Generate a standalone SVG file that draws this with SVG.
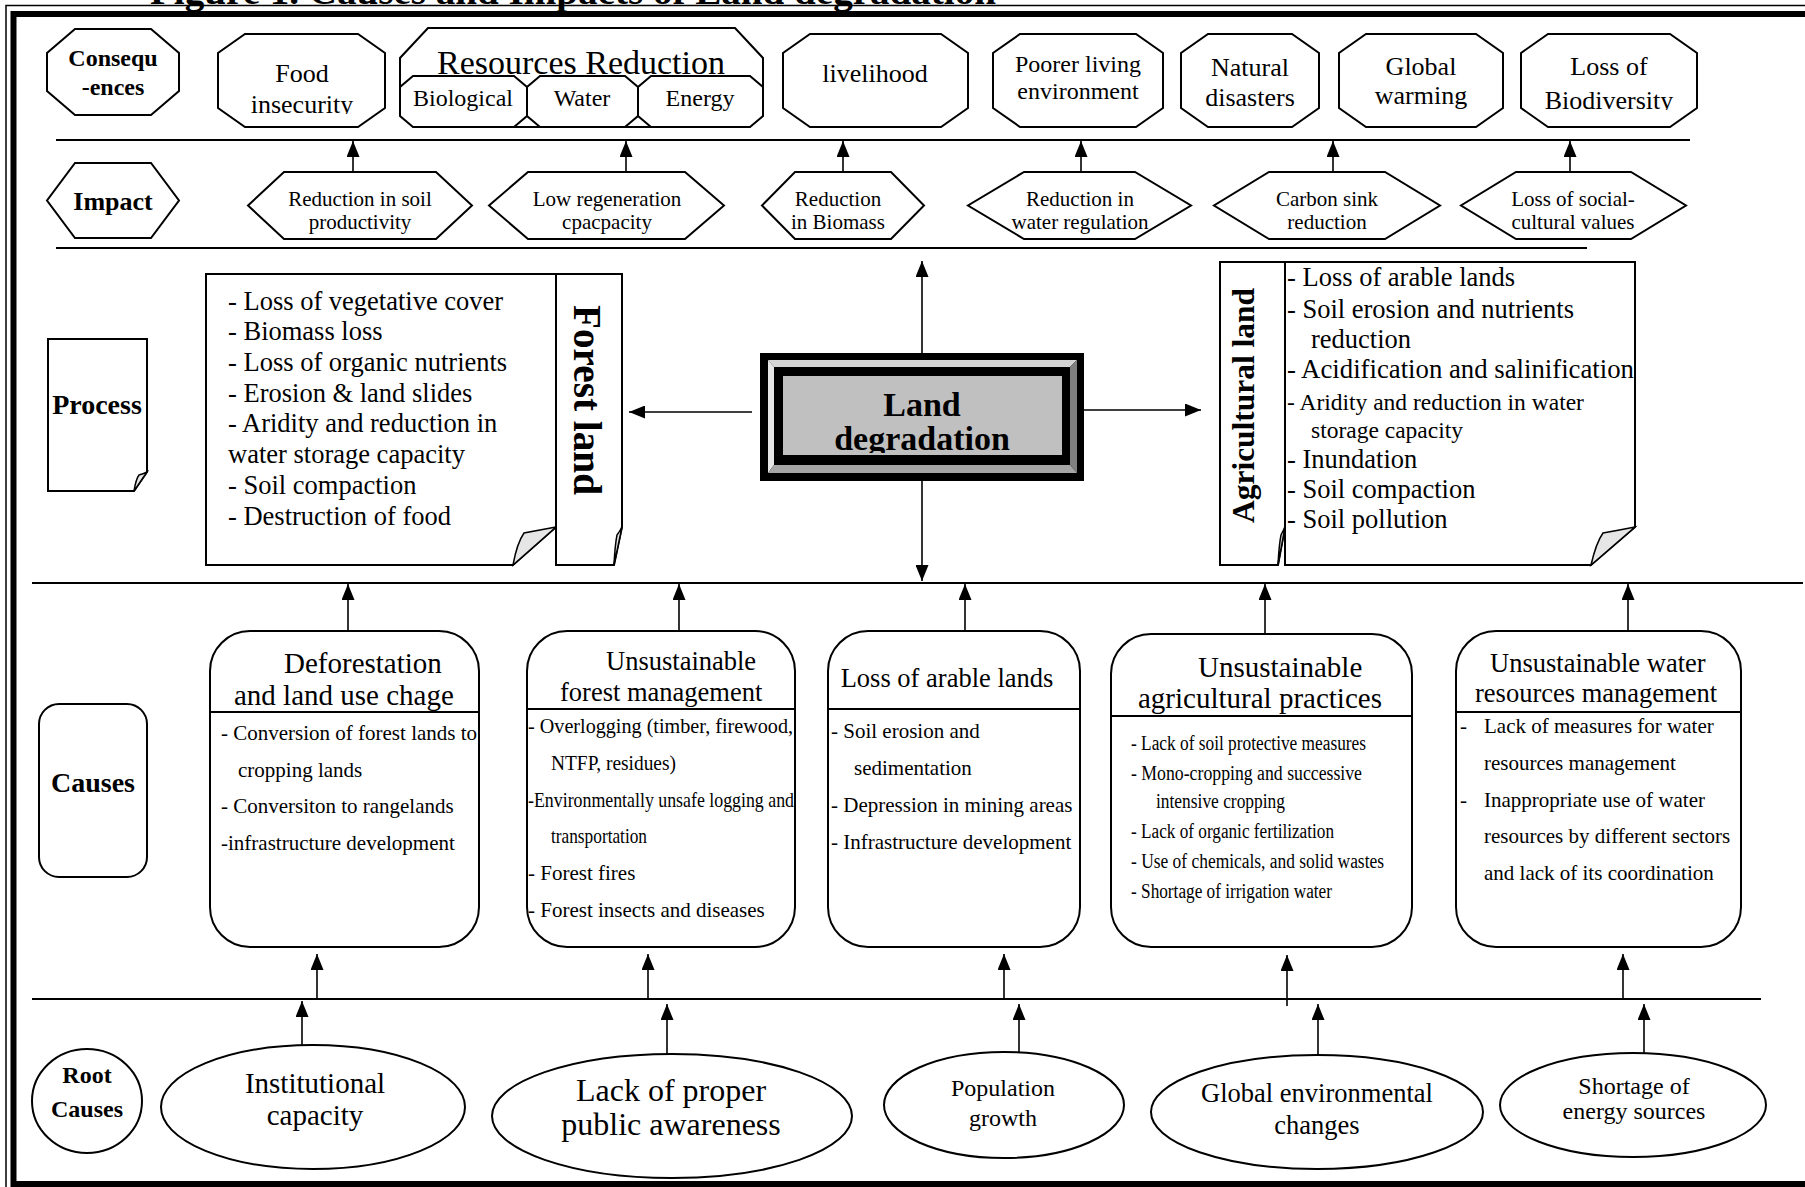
<svg xmlns="http://www.w3.org/2000/svg" width="1805" height="1187" viewBox="0 0 1805 1187">
<style>
text { font-family: "Liberation Serif", "Times New Roman", serif; fill: #000; }
.b { font-weight: bold; }
.m { text-anchor: middle; }
.s { fill: #fff; stroke: #000; stroke-width: 2; }
.ln { stroke: #000; stroke-width: 2; fill: none; }
.ar { stroke: #000; stroke-width: 1.6; fill: none; marker-end: url(#ah); }
.f26 { font-size: 26px; }
.f24 { font-size: 24px; }
.f21 { font-size: 21px; }
.flap { fill: #e6e6e6; stroke: #000; stroke-width: 1.5; }
</style>
<defs>
<marker id="ah" markerUnits="userSpaceOnUse" markerWidth="16" markerHeight="13" refX="16" refY="6.5" orient="auto">
<path d="M0,0 L16,6.5 L0,13 Z" fill="#000"/>
</marker>
<clipPath id="cFood"><rect x="218" y="30" width="170" height="84"/></clipPath>
<clipPath id="cBio"><rect x="1521" y="30" width="180" height="80"/></clipPath>
<clipPath id="cLand"><rect x="783" y="376" width="279" height="77"/></clipPath>
</defs>
<rect width="1805" height="1187" fill="#fff"/>

<!-- title -->
<text x="150" y="4" class="b" font-size="38" textLength="846" lengthAdjust="spacingAndGlyphs">Figure 1.  Causes and Impacts of Land degradation</text>

<!-- frame -->
<rect x="6" y="5.5" width="1840" height="1220" fill="none" stroke="#000" stroke-width="1.5"/>
<rect x="13.5" y="14" width="1840" height="1170" fill="none" stroke="#000" stroke-width="6"/>

<!-- separator lines -->
<g id="separators">
<line class="ln" x1="56" y1="140" x2="1690" y2="140"/>
<line class="ln" x1="56" y1="248" x2="1587" y2="248"/>
<line class="ln" x1="32" y1="583" x2="1803" y2="583"/>
<line class="ln" x1="32" y1="999" x2="1761" y2="999" stroke-width="3"/>
</g>

<!-- consequences row -->
<g id="consequences-label">
<polygon class="s" points="75,29 151,29 179,53 179,91 151,115 75,115 47,91 47,53"/>
<text x="113" y="66" class="b m f24">Consequ</text>
<text x="113" y="95" class="b m f24">-ences</text>
</g>
<g id="food-insecurity">
<polygon class="s" points="245,34 358,34 385,53 385,108 358,127 245,127 218,108 218,53"/>
<text x="302" y="82" class="m f26">Food</text>
<text x="302" y="113" class="m f26" clip-path="url(#cFood)">insecurity</text>
</g>
<g id="resources-reduction">
<polygon class="s" points="428,28 735,28 763,58 763,97 735,127 428,127 400,97 400,58"/>
<text x="581" y="74" class="m" font-size="34">Resources Reduction</text>
<polygon class="s" points="413,76 514,76 527,87 527,116 514,127 413,127 400,116 400,87"/>
<polygon class="s" points="540,76 625,76 638,87 638,116 625,127 540,127 527,116 527,87"/>
<polygon class="s" points="651,76 750,76 763,87 763,116 750,127 651,127 638,116 638,87"/>
<text x="463" y="106" class="m f24">Biological</text>
<text x="582" y="106" class="m f24">Water</text>
<text x="700" y="106" class="m f24">Energy</text>
</g>
<g id="livelihood">
<polygon class="s" points="810,34 941,34 968,53 968,108 941,127 810,127 783,108 783,53"/>
<text x="875" y="82" class="m f26">livelihood</text>
</g>
<g id="poorer-living">
<polygon class="s" points="1020,34 1136,34 1163,53 1163,108 1136,127 1020,127 993,108 993,53"/>
<text x="1078" y="72" class="m f24">Poorer living</text>
<text x="1078" y="99" class="m f24">environment</text>
</g>
<g id="natural-disasters">
<polygon class="s" points="1208,34 1292,34 1319,53 1319,108 1292,127 1208,127 1181,108 1181,53"/>
<text x="1250" y="76" class="m f26">Natural</text>
<text x="1250" y="106" class="m f26">disasters</text>
</g>
<g id="global-warming">
<polygon class="s" points="1366,34 1476,34 1503,53 1503,108 1476,127 1366,127 1339,108 1339,53"/>
<text x="1421" y="75" class="m f26">Global</text>
<text x="1421" y="104" class="m f26">warming</text>
</g>
<g id="loss-biodiversity">
<polygon class="s" points="1548,34 1670,34 1697,53 1697,108 1670,127 1548,127 1521,108 1521,53"/>
<text x="1609" y="75" class="m f26">Loss of</text>
<text x="1609" y="109" class="m f26" clip-path="url(#cBio)">Biodiversity</text>
</g>

<!-- impact row -->
<g id="impact-label">
<polygon class="s" points="75,163 151,163 179,200.5 151,238 75,238 47,200.5"/>
<text x="113" y="210" class="b m f26">Impact</text>
</g>
<g id="impact-soil">
<polygon class="s" points="284,172 436,172 472,205.5 436,239 284,239 248,205.5"/>
<text x="360" y="206" class="m f21">Reduction in soil</text>
<text x="360" y="229" class="m f21">productivity</text>
</g>
<g id="impact-regeneration">
<polygon class="s" points="528,172 685,172 724,205.5 685,239 528,239 489,205.5"/>
<text x="607" y="206" class="m f21">Low regeneration</text>
<text x="607" y="229" class="m f21">cpacpacity</text>
</g>
<g id="impact-biomass">
<polygon class="s" points="795,172 891,172 924,205.5 891,239 795,239 762,205.5"/>
<text x="838" y="206" class="m f21">Reduction</text>
<text x="838" y="229" class="m f21">in Biomass</text>
</g>
<g id="impact-water">
<polygon class="s" points="1024,172 1135,172 1191,205.5 1135,239 1024,239 968,205.5"/>
<text x="1080" y="206" class="m f21">Reduction in</text>
<text x="1080" y="229" class="m f21">water regulation</text>
</g>
<g id="impact-carbon">
<polygon class="s" points="1269,172 1385,172 1440,205.5 1385,239 1269,239 1214,205.5"/>
<text x="1327" y="206" class="m f21">Carbon sink</text>
<text x="1327" y="229" class="m f21">reduction</text>
</g>
<g id="impact-social">
<polygon class="s" points="1516,172 1631,172 1686,205.5 1631,239 1516,239 1461,205.5"/>
<text x="1573" y="206" class="m f21">Loss of social-</text>
<text x="1573" y="229" class="m f21">cultural values</text>
</g>

<!-- process row -->
<g id="process-label">
<path class="s" d="M48,339 H147 V472 L134,491 H48 Z"/>
<path class="flap" d="M134,491 Q136,479 139,475 Q143,474 147,472 Z"/>
<text x="97" y="414" class="b m" font-size="28">Process</text>
</g>
<g id="forest-land">
<path class="s" d="M206,274 H556 V527 L513,565 H206 Z"/>
<path class="flap" d="M513,565 Q517,543 524,533 Q540,530 556,527 Z"/>
<path class="s" d="M556,274 H622 V527 L614,565 H556 Z"/>
<path class="flap" d="M614,565 Q615,545 617,535 Q620,531 622,527 Z"/>
<text transform="translate(574,305) rotate(90)" class="b" font-size="40" textLength="190" lengthAdjust="spacingAndGlyphs">Forest land</text>
<g font-size="26.5">
<text x="228" y="310">- Loss of vegetative cover</text>
<text x="228" y="340">- Biomass loss</text>
<text x="228" y="371">- Loss of organic nutrients</text>
<text x="228" y="402">- Erosion &amp; land slides</text>
<text x="228" y="432">- Aridity and reduction in</text>
<text x="228" y="463">water storage capacity</text>
<text x="228" y="494">- Soil compaction</text>
<text x="228" y="525">- Destruction of food</text>
</g>
</g>
<g id="land-degradation">
<rect x="760" y="353" width="324" height="128" fill="#000"/>
<polygon points="768,360 1077,360 1070,367 774,367" fill="#d4d4d4"/>
<polygon points="768,360 774,367 774,465 768,473" fill="#e6e6e6"/>
<polygon points="1077,360 1077,473 1070,465 1070,367" fill="#808080"/>
<polygon points="768,473 774,465 1070,465 1077,473" fill="#a6a6a6"/>
<rect x="774" y="367" width="296" height="98" fill="#000"/>
<rect x="783" y="376" width="279" height="79" fill="#c0c0c0"/>
<text x="922" y="416" class="b m" font-size="34">Land</text>
<text x="922" y="450" class="b m" font-size="34" clip-path="url(#cLand)">degradation</text>
</g>
<g id="agricultural-land">
<path class="s" d="M1220,262 H1285 V527 L1278,565 H1220 Z"/>
<path class="flap" d="M1278,565 Q1279,545 1281,535 Q1283,531 1285,527 Z"/>
<path class="s" d="M1285,262 H1635 V527 L1591,565 H1285 Z"/>
<path class="flap" d="M1591,565 Q1596,543 1603,533 Q1620,530 1635,527 Z"/>
<text transform="translate(1254,523) rotate(-90)" class="b" font-size="31" textLength="235" lengthAdjust="spacingAndGlyphs">Agricultural land</text>
<g font-size="26.5">
<text x="1287" y="286">- Loss of arable lands</text>
<text x="1287" y="318">- Soil erosion and nutrients</text>
<text x="1311" y="348">reduction</text>
<text x="1287" y="378" textLength="347" lengthAdjust="spacingAndGlyphs">- Acidification and salinification</text>
<text x="1287" y="410" font-size="23.5">- Aridity and reduction in water</text>
<text x="1311" y="438" font-size="23.5">storage capacity</text>
<text x="1287" y="468">- Inundation</text>
<text x="1287" y="498">- Soil compaction</text>
<text x="1287" y="528">- Soil pollution</text>
</g>
</g>

<!-- causes row -->
<g id="causes-label">
<rect class="s" x="39" y="704" width="108" height="173" rx="20"/>
<text x="93" y="792" class="b m" font-size="28">Causes</text>
</g>
<g id="cause-deforestation">
<rect class="s" x="210" y="631" width="269" height="316" rx="40"/>
<line class="ln" x1="210" y1="712" x2="479" y2="712"/>
<text x="284" y="673" font-size="29">Deforestation</text>
<text x="234" y="705" font-size="29">and land use chage</text>
<g class="f21">
<text x="221" y="740">- Conversion of forest lands to</text>
<text x="238" y="777">cropping lands</text>
<text x="221" y="813">- Conversiton to rangelands</text>
<text x="221" y="850">-infrastructure development</text>
</g>
</g>
<g id="cause-forest-management">
<rect class="s" x="527" y="631" width="268" height="316" rx="40"/>
<line class="ln" x1="527" y1="709" x2="795" y2="709"/>
<text x="606" y="670" font-size="26.5">Unsustainable</text>
<text x="560" y="701" font-size="26.5">forest management</text>
<g class="f21">
<text x="528" y="733" textLength="265" lengthAdjust="spacingAndGlyphs">- Overlogging (timber, firewood,</text>
<text x="551" y="770" textLength="125" lengthAdjust="spacingAndGlyphs">NTFP, residues)</text>
<text x="528" y="807" textLength="266" lengthAdjust="spacingAndGlyphs">-Environmentally unsafe logging and</text>
<text x="551" y="843" textLength="96" lengthAdjust="spacingAndGlyphs">transportation</text>
<text x="528" y="880">- Forest fires</text>
<text x="528" y="917">- Forest insects and diseases</text>
</g>
</g>
<g id="cause-arable">
<rect class="s" x="828" y="631" width="252" height="316" rx="40"/>
<line class="ln" x1="828" y1="709" x2="1080" y2="709"/>
<text x="947" y="687" class="m" font-size="26.5">Loss of arable lands</text>
<g class="f21">
<text x="831" y="738">- Soil erosion and</text>
<text x="854" y="775">sedimentation</text>
<text x="831" y="812">- Depression in mining areas</text>
<text x="831" y="849">- Infrastructure development</text>
</g>
</g>
<g id="cause-agricultural">
<rect class="s" x="1111" y="634" width="301" height="313" rx="40"/>
<line class="ln" x1="1111" y1="716" x2="1412" y2="716"/>
<text x="1198" y="677" font-size="29">Unsustainable</text>
<text x="1138" y="708" font-size="29">agricultural practices</text>
<g font-size="20">
<text x="1131" y="750" textLength="235" lengthAdjust="spacingAndGlyphs">- Lack of soil protective measures</text>
<text x="1131" y="780" textLength="231" lengthAdjust="spacingAndGlyphs">- Mono-cropping and successive</text>
<text x="1156" y="808" textLength="129" lengthAdjust="spacingAndGlyphs">intensive cropping</text>
<text x="1131" y="838" textLength="203" lengthAdjust="spacingAndGlyphs">- Lack of organic fertilization</text>
<text x="1131" y="868" textLength="253" lengthAdjust="spacingAndGlyphs">- Use of chemicals, and solid wastes</text>
<text x="1131" y="898" textLength="201" lengthAdjust="spacingAndGlyphs">- Shortage of irrigation water</text>
</g>
</g>
<g id="cause-water">
<rect class="s" x="1456" y="631" width="285" height="316" rx="40"/>
<line class="ln" x1="1456" y1="712" x2="1741" y2="712"/>
<text x="1490" y="672" font-size="26.5">Unsustainable water</text>
<text x="1475" y="702" font-size="26.5">resources management</text>
<g class="f21">
<text x="1460" y="733">-</text>
<text x="1484" y="733">Lack of  measures for water</text>
<text x="1484" y="770">resources management</text>
<text x="1460" y="807">-</text>
<text x="1484" y="807">Inappropriate use of water</text>
<text x="1484" y="843">resources by different sectors</text>
<text x="1484" y="880">and lack of its coordination</text>
</g>
</g>

<!-- root causes row -->
<g id="root-causes-label">
<ellipse class="s" cx="87" cy="1101" rx="55" ry="52"/>
<text x="87" y="1083" class="b m f24">Root</text>
<text x="87" y="1117" class="b m f24">Causes</text>
</g>
<g id="root-institutional">
<ellipse class="s" cx="313" cy="1107" rx="152" ry="62"/>
<text x="315" y="1093" class="m" font-size="29">Institutional</text>
<text x="315" y="1125" class="m" font-size="29">capacity</text>
</g>
<g id="root-awareness">
<ellipse class="s" cx="672" cy="1116" rx="180" ry="62"/>
<text x="671" y="1101" class="m" font-size="32">Lack of proper</text>
<text x="671" y="1135" class="m" font-size="32">public awareness</text>
</g>
<g id="root-population">
<ellipse class="s" cx="1004" cy="1105" rx="120" ry="53"/>
<text x="1003" y="1096" class="m f24">Population</text>
<text x="1003" y="1126" class="m f24">growth</text>
</g>
<g id="root-global">
<ellipse class="s" cx="1317" cy="1112" rx="166" ry="57"/>
<text x="1317" y="1102" class="m" font-size="26.5">Global environmental</text>
<text x="1317" y="1134" class="m" font-size="26.5">changes</text>
</g>
<g id="root-energy">
<ellipse class="s" cx="1633" cy="1105" rx="133" ry="52"/>
<text x="1634" y="1094" class="m f24">Shortage of</text>
<text x="1634" y="1119" class="m f24">energy sources</text>
</g>

<!-- connectors -->
<g id="connectors">
<line class="ar" x1="353" y1="172" x2="353" y2="141"/>
<line class="ar" x1="626" y1="172" x2="626" y2="141"/>
<line class="ar" x1="843" y1="172" x2="843" y2="141"/>
<line class="ar" x1="1081" y1="172" x2="1081" y2="141"/>
<line class="ar" x1="1333" y1="172" x2="1333" y2="141"/>
<line class="ar" x1="1570" y1="172" x2="1570" y2="141"/>
<line class="ar" x1="922" y1="353" x2="922" y2="261"/>
<line class="ar" x1="922" y1="481" x2="922" y2="581"/>
<line class="ar" x1="752" y1="412" x2="629" y2="412"/>
<line class="ar" x1="1084" y1="410" x2="1201" y2="410"/>
<line class="ar" x1="348" y1="631" x2="348" y2="584"/>
<line class="ar" x1="679" y1="631" x2="679" y2="584"/>
<line class="ar" x1="965" y1="631" x2="965" y2="584"/>
<line class="ar" x1="1265" y1="634" x2="1265" y2="584"/>
<line class="ar" x1="1628" y1="631" x2="1628" y2="584"/>
<line class="ar" x1="317" y1="1000" x2="317" y2="954"/>
<line class="ar" x1="648" y1="1000" x2="648" y2="954"/>
<line class="ar" x1="1004" y1="1000" x2="1004" y2="954"/>
<line class="ar" x1="1287" y1="1006" x2="1287" y2="955"/>
<line class="ar" x1="1623" y1="1000" x2="1623" y2="954"/>
<line class="ar" x1="302" y1="1045" x2="302" y2="1001"/>
<line class="ar" x1="667" y1="1054" x2="667" y2="1004"/>
<line class="ar" x1="1019" y1="1052" x2="1019" y2="1004"/>
<line class="ar" x1="1318" y1="1055" x2="1318" y2="1004"/>
<line class="ar" x1="1644" y1="1053" x2="1644" y2="1004"/>
</g>
</svg>
